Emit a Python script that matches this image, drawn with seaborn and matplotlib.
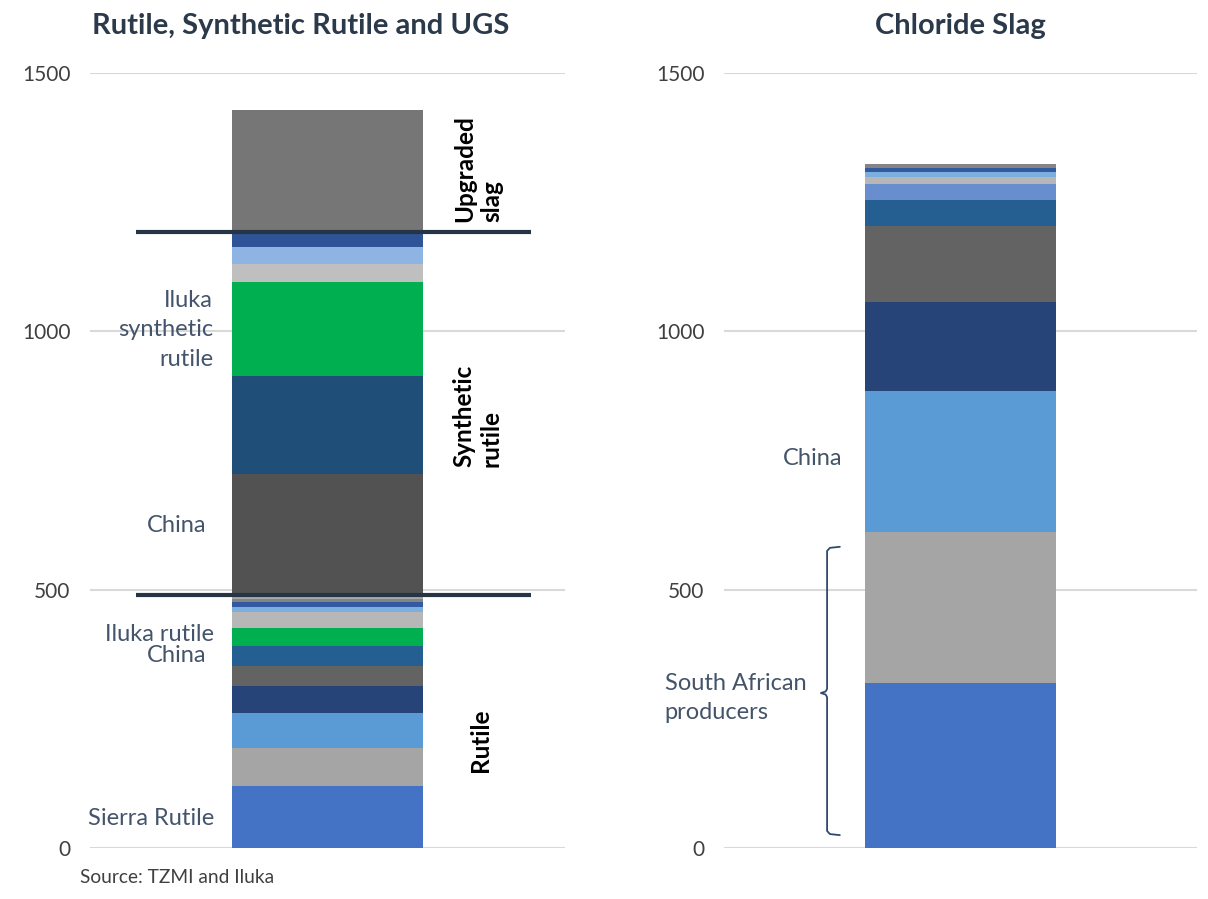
import numpy as np
import pandas as pd
import matplotlib
matplotlib.use("Agg")
import matplotlib.pyplot as plt
import seaborn as sns

sns.set_theme(style="white")
plt.rcParams['font.family'] = ['Lato', 'DejaVu Sans']

# ---------------- data ----------------
left_values = [120, 73, 68, 52, 39, 39, 35, 31, 9, 10, 6, 4, 238, 190, 182, 35, 33, 29, 236]
left_colors = ["#4472C4", "#A5A5A5", "#5B9BD5", "#264478", "#636363", "#255E91", "#00B050",
               "#B7B7B7", "#7CAFDD", "#335AA1", "#848484", "#A9A9A9", "#525252", "#1F4E79",
               "#00B050", "#BFBFBF", "#8DB4E2", "#2E5396", "#767676"]
right_values = [319, 292, 273, 172, 147, 52, 31, 12, 9.5, 8, 8]
right_colors = ["#4472C4", "#A5A5A5", "#5B9BD5", "#264478", "#636363", "#255E91", "#698ED0",
                "#B7B7B7", "#7CAFDD", "#335AA1", "#848484"]

titles = ["Rutile, Synthetic Rutile and UGS", "Chloride Slag"]
yticks = [0, 500, 1000, 1500]
divider_levels = [490, 1192]
brace_range = [25, 583]
source = "Source: TZMI and Iluka"

fig = plt.figure(figsize=(12.08, 8.99), dpi=100)
axL = fig.add_axes([0.0745, 0.0567, 0.3932, 0.8621])
axR = fig.add_axes([0.5993, 0.0567, 0.3916, 0.8621])

BAR_W = 0.402


def stacked(ax, values, colors):
    cum = np.cumsum(values)
    # draw cumulative totals from tallest to shortest so each covers the one below
    for i in range(len(values) - 1, -1, -1):
        df = pd.DataFrame({"cat": ["a"], "val": [cum[i]]})
        sns.barplot(data=df, x="cat", y="val", color=colors[i], saturation=1,
                    width=BAR_W, linewidth=0, ax=ax, zorder=2)


for ax, vals, cols, title, tx in [(axL, left_values, left_colors, titles[0], 0.444),
                                  (axR, right_values, right_colors, titles[1], 0.5)]:
    stacked(ax, vals, cols)
    ax.set_xlim(-0.5, 0.5)
    ax.set_ylim(0, 1500)
    ax.set_yticks(yticks)
    ax.set_yticklabels([str(t) for t in yticks], fontsize=15, color="#404040")
    ax.tick_params(axis="y", length=0, pad=14)
    ax.set_xticks([])
    ax.set_xlabel("")
    ax.set_ylabel("")
    for s in ax.spines.values():
        s.set_visible(False)
    ax.grid(axis="y", color="#D9D9D9", linewidth=1.5, zorder=0)
    ax.set_axisbelow(True)
    ax.set_title(title, fontsize=21, fontweight="bold", color="#2B3A4A", pad=28, x=tx)

# divider lines on left chart
for lv in divider_levels:
    axL.plot([-0.403, 0.428], [lv, lv], color="#263545", linewidth=3, zorder=5,
             solid_capstyle="butt")

lab_col = "#44546A"
FS = 17
axL.text(-0.238, 58, "Sierra Rutile", ha="right", va="center", fontsize=FS, color=lab_col)
axL.text(-0.238, 414, "Iluka rutile", ha="right", va="center", fontsize=FS, color=lab_col)
axL.text(-0.317, 373, "China", ha="center", va="center", fontsize=FS, color=lab_col)
axL.text(-0.317, 625, "China", ha="center", va="center", fontsize=FS, color=lab_col)
axL.text(-0.241, 1003, "Iluka\nsynthetic\nrutile", ha="right", va="center", fontsize=FS,
         color=lab_col, multialignment="right", linespacing=1.5)

bold_kw = dict(rotation=90, ha="center", va="center", fontsize=17.5, fontweight="bold",
               color="black", multialignment="left", linespacing=1.2)
axL.text(0.317, 1316, "Upgraded\nslag", **bold_kw)
axL.text(0.315, 836, "Synthetic\nrutile", **bold_kw)
axL.text(0.323, 209, "Rutile", **bold_kw)

axR.text(-0.312, 753, "China", ha="center", va="center", fontsize=FS, color=lab_col)
axR.text(-0.625, 290, "South African\nproducers", ha="left", va="center", fontsize=FS,
         color=lab_col, linespacing=1.5, clip_on=False)

# curly brace
lo, hi = brace_range
mid = 300
xv, xe, xt = -0.282, -0.255, -0.295
r = 8
bx = [xe, xv + 0.006, xv, xv, xv - 0.003, xt, xv - 0.003, xv, xv, xv + 0.006, xe]
by = [hi, hi - 2, hi - r, mid + r, mid + 3, mid, mid - 3, mid - r, lo + r, lo + 2, lo]
axR.plot(bx, by, color="#2F4A6D", linewidth=1.3, zorder=5, clip_on=False)

fig.text(0.066, 0.014, source, fontsize=13.8, color="#404040", ha="left", va="bottom")

fig.savefig("out.png", dpi=100)
